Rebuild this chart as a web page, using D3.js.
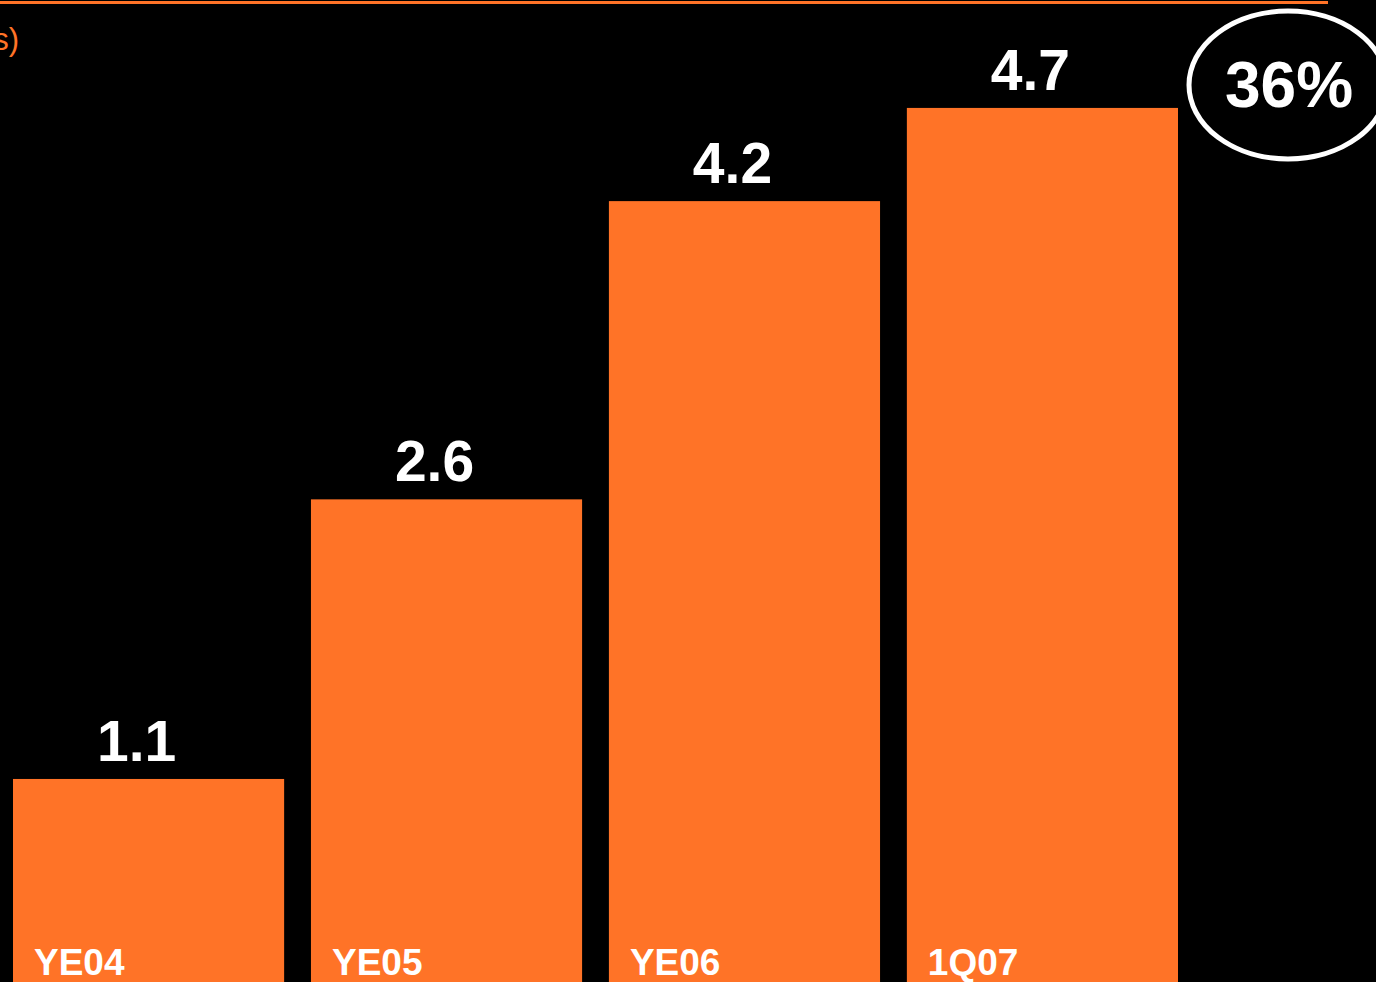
<!DOCTYPE html>
<html>
<head>
<meta charset="utf-8">
<script src="https://cdn.jsdelivr.net/npm/d3@7"></script>
<style>
  html, body { margin: 0; padding: 0; background: #000; overflow: hidden; }
  svg { display: block; }
  text { font-family: "Liberation Sans", Arial, sans-serif; }
</style>
</head>
<body>
<svg id="chart"></svg>
<script>
const categories = ["YE04", "YE05", "YE06", "1Q07"];
const values = [1.1, 2.6, 4.2, 4.7];
const growthLabel = "36%";
const unitLabel = "(US$ billions)";

const width = 1376, height = 982;
const orange = "#ff7327";

const svg = d3.select("#chart")
    .attr("width", width)
    .attr("height", height);

svg.append("rect")
    .attr("width", width)
    .attr("height", height)
    .attr("fill", "#000");

// top rule
svg.append("line")
    .attr("x1", 0).attr("x2", 1328)
    .attr("y1", 2.5).attr("y2", 2.5)
    .attr("stroke", orange)
    .attr("stroke-width", 3);

// unit label, mostly cut off at the left edge
svg.append("text")
    .attr("x", 19)
    .attr("y", 50)
    .attr("text-anchor", "end")
    .attr("fill", orange)
    .style("font-size", "31px")
    .text(unitLabel);

const x = d3.scaleBand()
    .domain(categories)
    .range([13, 1178])
    .paddingInner(0.09)
    .paddingOuter(0);

const y = d3.scaleLinear()
    .domain([0, 5])
    .range([984, 984 - 5 * 186.4]);

const data = categories.map((c, i) => ({ cat: c, value: values[i] }));

const bars = svg.append("g");

bars.selectAll("rect")
    .data(data)
    .join("rect")
    .attr("x", d => x(d.cat))
    .attr("y", d => y(d.value))
    .attr("width", x.bandwidth())
    .attr("height", d => y(0) - y(d.value))
    .attr("fill", orange);

bars.selectAll(".value")
    .data(data)
    .join("text")
    .attr("class", "value")
    .attr("x", d => x(d.cat) + x.bandwidth() / 2 - 12)
    .attr("y", d => y(d.value) - 18)
    .attr("text-anchor", "middle")
    .attr("fill", "#fff")
    .style("font-size", "57px")
    .style("font-weight", "bold")
    .text(d => d.value.toFixed(1));

bars.selectAll(".cat")
    .data(data)
    .join("text")
    .attr("class", "cat")
    .attr("x", d => x(d.cat) + 21)
    .attr("y", 975)
    .attr("fill", "#fff")
    .style("font-size", "37px")
    .style("font-weight", "bold")
    .text(d => d.cat);

// growth badge
svg.append("ellipse")
    .attr("cx", 1288)
    .attr("cy", 85)
    .attr("rx", 99)
    .attr("ry", 74)
    .attr("fill", "none")
    .attr("stroke", "#fff")
    .attr("stroke-width", 5);

svg.append("text")
    .attr("x", 1289)
    .attr("y", 107)
    .attr("text-anchor", "middle")
    .attr("fill", "#fff")
    .style("font-size", "64px")
    .style("font-weight", "bold")
    .text(growthLabel);
</script>
</body>
</html>
